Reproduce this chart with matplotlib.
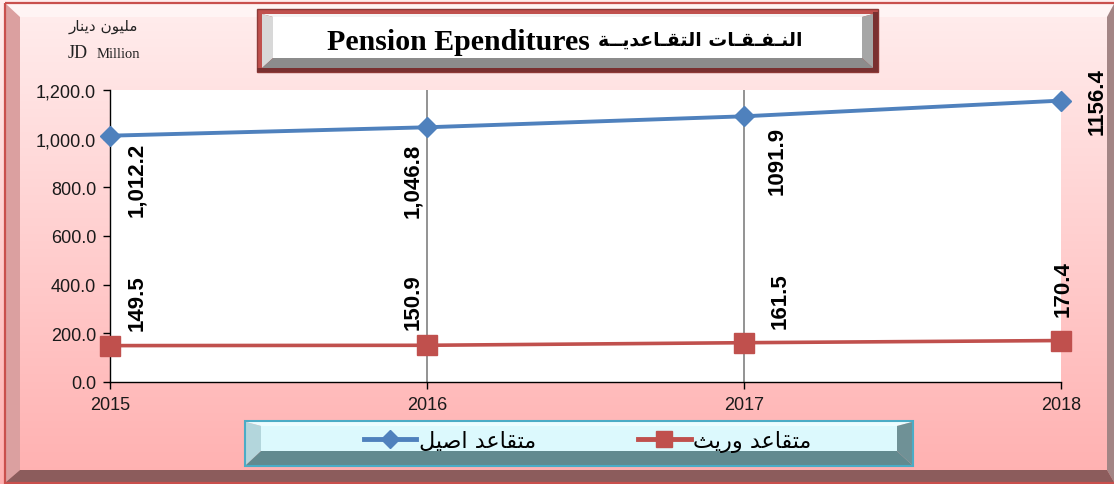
import matplotlib
matplotlib.use('Agg')
import matplotlib.pyplot as plt
import numpy as np
from matplotlib.patches import Polygon, Rectangle
from matplotlib.lines import Line2D

W, H = 1114, 485

# data
years = [2015, 2016, 2017, 2018]
basic = [1012.2, 1046.8, 1091.9, 1156.4]
heirs = [149.5, 150.9, 161.5, 170.4]
basic_labels = ['1,012.2', '1,046.8', '1091.9', '1156.4']
heirs_labels = ['149.5', '150.9', '161.5', '170.4']
y_ticks = [0, 200, 400, 600, 800, 1000, 1200]

title_ar = 'النـفـقـات التقـاعديــة'
title_en = 'Pension Ependitures'
unit_ar = 'مليون دينار'
basic_name = 'متقاعد اصيل'
heirs_name = 'متقاعد وريث'

BLUE = '#4F81BD'
RED = '#C0504D'

# arabic letters -> isolated, final, initial, medial (None: no link to next letter)
AR_FORMS = {
    'ا': ('\ufe8d', '\ufe8e', None, None),
    'ت': ('\ufe95', '\ufe96', '\ufe97', '\ufe98'),
    'ث': ('\ufe99', '\ufe9a', '\ufe9b', '\ufe9c'),
    'ة': ('\ufe93', '\ufe94', None, None),
    'د': ('\ufea9', '\ufeaa', None, None),
    'ر': ('\ufead', '\ufeae', None, None),
    'ص': ('\ufeb9', '\ufeba', '\ufebb', '\ufebc'),
    'ع': ('\ufec9', '\ufeca', '\ufecb', '\ufecc'),
    'ف': ('\ufed1', '\ufed2', '\ufed3', '\ufed4'),
    'ق': ('\ufed5', '\ufed6', '\ufed7', '\ufed8'),
    'ل': ('\ufedd', '\ufede', '\ufedf', '\ufee0'),
    'م': ('\ufee1', '\ufee2', '\ufee3', '\ufee4'),
    'ن': ('\ufee5', '\ufee6', '\ufee7', '\ufee8'),
    'و': ('\ufeed', '\ufeee', None, None),
    'ي': ('\ufef1', '\ufef2', '\ufef3', '\ufef4'),
    'ـ': ('ـ', 'ـ', 'ـ', 'ـ'),
}


def shape_ar(s):
    # simple contextual shaping + reversal, matplotlib has no bidi
    out = []
    for i, ch in enumerate(s):
        if ch not in AR_FORMS:
            out.append(ch)
            continue
        prev = s[i - 1] if i > 0 else ''
        nxt = s[i + 1] if i < len(s) - 1 else ''
        link_prev = prev in AR_FORMS and AR_FORMS[prev][2] is not None
        link_next = nxt in AR_FORMS and AR_FORMS[ch][2] is not None
        iso, fin, ini, med = AR_FORMS[ch]
        if link_prev and link_next:
            out.append(med)
        elif link_prev:
            out.append(fin)
        elif link_next:
            out.append(ini)
        else:
            out.append(iso)
    return ''.join(reversed(out))


fig = plt.figure(figsize=(W / 100, H / 100), dpi=100)

# pixel canvas for the background / frames
canvas = fig.add_axes([0, 0, 1, 1], zorder=0)
canvas.set_xlim(0, W)
canvas.set_ylim(H, 0)
canvas.axis('off')

grad = np.linspace(0, 1, 200)[:, None]
top_c = np.array([255, 238, 238]) / 255
bot_c = np.array([255, 176, 176]) / 255
img = top_c[None, None, :] * (1 - grad[:, :, None]) + bot_c[None, None, :] * grad[:, :, None]
canvas.imshow(img, extent=[0, W, H, 0], aspect='auto', zorder=0)


def bevel_box(x0, y0, x1, y1, d, face, c_top, c_left, c_right, c_bot, z=1):
    l, t, r, b = d
    canvas.add_patch(Polygon([(x0, y0), (x1, y0), (x1 - r, y0 + t), (x0 + l, y0 + t)],
                             closed=True, fc=c_top, ec='none', zorder=z))
    canvas.add_patch(Polygon([(x0, y0), (x0 + l, y0 + t), (x0 + l, y1 - b), (x0, y1)],
                             closed=True, fc=c_left, ec='none', zorder=z))
    canvas.add_patch(Polygon([(x1, y0), (x1, y1), (x1 - r, y1 - b), (x1 - r, y0 + t)],
                             closed=True, fc=c_right, ec='none', zorder=z))
    canvas.add_patch(Polygon([(x0, y1), (x0 + l, y1 - b), (x1 - r, y1 - b), (x1, y1)],
                             closed=True, fc=c_bot, ec='none', zorder=z))
    if face is not None:
        canvas.add_patch(Rectangle((x0 + l, y0 + t), x1 - x0 - l - r, y1 - y0 - t - b,
                                   fc=face, ec='none', zorder=z))


# outer frame
canvas.add_patch(Rectangle((5, 4), W + 5, 480, fc='none', ec='#C9504D', lw=1.6, zorder=2))
bevel_box(6, 5, W, 483, (14, 13, 7, 12), None, '#FFF4F4', '#DBA0A0', '#A38585', '#8C5C5C')

# title box
canvas.add_patch(Rectangle((257, 10), 621, 63, fc=RED, ec='#8E3A38', lw=1, zorder=1))
canvas.add_patch(Rectangle((257, 69), 621, 4, fc='#7A3030', ec='none', zorder=1))
canvas.add_patch(Rectangle((873, 13), 5, 60, fc='#7A3030', ec='none', zorder=1))
bevel_box(262, 15, 873, 69, (11, 3, 11, 10), 'white', '#F4F4F4', '#D8D8D8', '#A6A6A6', '#8C8C8C', z=2)
canvas.text(327, 42, title_en, ha='left', va='center',
            fontsize=21.5, fontweight='bold', family='Liberation Serif', zorder=3)
canvas.text(598, 40, shape_ar(title_ar), ha='left', va='center',
            fontsize=13.5, fontweight='bold', family='DejaVu Sans', zorder=3)

# unit labels
canvas.text(103, 27, shape_ar(unit_ar), ha='center', va='center', fontsize=11,
            family=['DejaVu Sans'], color='#222222', zorder=3)
canvas.text(88, 54, 'JD', ha='right', va='center', fontsize=13,
            family='Liberation Serif', color='#222222', zorder=3)
canvas.text(97, 55, 'Million', ha='left', va='center', fontsize=10.5,
            family='Liberation Serif', color='#222222', zorder=3)

# legend box
canvas.add_patch(Rectangle((245, 422), 668, 45, fc='none', ec='#4BACC6', lw=1.5, zorder=2))
bevel_box(246, 423, 912, 466, (15, 4, 15, 14), '#DCF9FD', '#ECFDFF', '#B3D6DC', '#6F9196', '#628A8F', z=1)

# main chart
ax = fig.add_axes([110 / W, 1 - 383 / H, (1061 - 110) / W, (383 - 91) / H], zorder=2)
ax.set_facecolor('white')
for yr in years[1:-1]:
    ax.axvline(yr, color='#808080', lw=1.2, zorder=1)

ax.plot(years, basic, color=BLUE, lw=2.8, marker='D', ms=10, mec=BLUE, mfc=BLUE,
        clip_on=False, zorder=3)
ax.plot(years, heirs, color=RED, lw=2.6, marker='s', ms=14, mec=RED, mfc=RED,
        clip_on=False, zorder=3)

ax.set_xlim(2015, 2018)
ax.set_ylim(0, 1200)
ax.set_xticks(years)
ax.set_xticklabels([str(y) for y in years])
ax.set_yticks(y_ticks)
ax.set_yticklabels(['{:,.1f}'.format(v) for v in y_ticks])
for s in ['top', 'right']:
    ax.spines[s].set_visible(False)
for s in ['left', 'bottom']:
    ax.spines[s].set_color('black')
    ax.spines[s].set_linewidth(1)
ax.tick_params(axis='both', direction='out', length=5, width=1, labelsize=13,
               labelcolor='#1A1A1A')
ax.tick_params(axis='x', pad=5)
ax.tick_params(axis='y', pad=5)
for lbl in ax.get_xticklabels() + ax.get_yticklabels():
    lbl.set_family('Liberation Sans')

# data labels (pixel offsets from the point)
blue_off = [(27, -6, 'top'), (-14, -15, 'top'), (33, -10, 'top'), (36, 0, 'center')]
red_off = [(27, 16, 'bottom'), (-14, 16, 'bottom'), (36, 15, 'bottom'), (2, 25, 'bottom')]
for x, v, t, (dx, dy, va) in zip(years, basic, basic_labels, blue_off):
    ax.annotate(t, (x, v), xytext=(dx, dy), textcoords='offset pixels', rotation=90,
                ha='center', va=va, fontsize=16, fontweight='bold',
                family='Liberation Sans', annotation_clip=False)
for x, v, t, (dx, dy, va) in zip(years, heirs, heirs_labels, red_off):
    ax.annotate(t, (x, v), xytext=(dx, dy), textcoords='offset pixels', rotation=90,
                ha='center', va=va, fontsize=16, fontweight='bold',
                family='Liberation Sans', annotation_clip=False)

handles = [Line2D([], [], color=BLUE, lw=3.5, marker='D', ms=9),
           Line2D([], [], color=RED, lw=3.5, marker='s', ms=11)]
leg = fig.legend(handles, [shape_ar(basic_name), shape_ar(heirs_name)],
                 loc='center left', bbox_to_anchor=(353 / W, 1 - 442 / H), ncol=2,
                 frameon=False, borderpad=0, handlelength=2.35, handletextpad=0.12,
                 columnspacing=4.6, prop={'family': 'DejaVu Sans', 'size': 16})

fig.savefig('out.png', dpi=100)
